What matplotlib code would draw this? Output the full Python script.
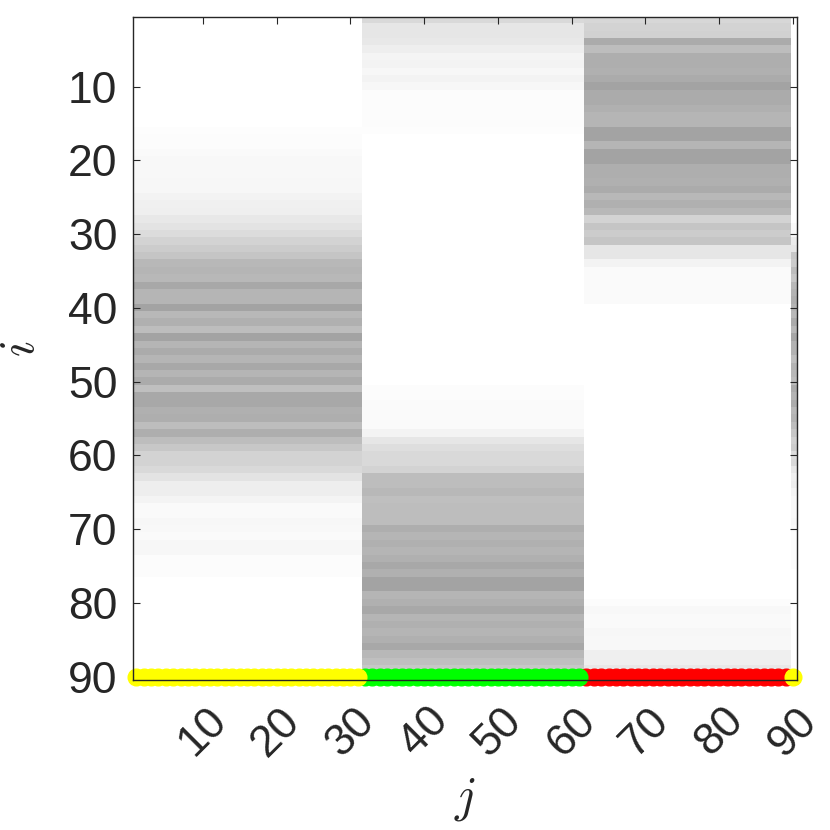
import numpy as np
import matplotlib
matplotlib.use("Agg")
import matplotlib.pyplot as plt

plt.rcParams['font.family'] = ['Liberation Sans', 'DejaVu Sans']
plt.rcParams['mathtext.fontset'] = 'cm'

# Perfiles de gris (fila i = 1..90) para cada grupo de columnas
perfil_a = ([0.0] * 15 +
            [0.01, 0.012, 0.015, 0.02, 0.03, 0.03, 0.03, 0.035, 0.035, 0.05,
             0.06, 0.065, 0.09, 0.11, 0.14, 0.17, 0.2, 0.23, 0.28, 0.29,
             0.28, 0.34, 0.29, 0.29, 0.36, 0.28, 0.31, 0.26, 0.36, 0.29,
             0.33, 0.29, 0.34, 0.29, 0.33, 0.25, 0.34, 0.34, 0.31, 0.32,
             0.26, 0.32, 0.26, 0.22, 0.17, 0.17, 0.15, 0.11, 0.07, 0.07,
             0.045, 0.02, 0.02, 0.035, 0.03, 0.02, 0.035, 0.035, 0.012, 0.012,
             0.012] +
            [0.003] * 14)

perfil_b = ([0.15, 0.1, 0.1, 0.09, 0.07, 0.045, 0.05, 0.035, 0.05, 0.035,
             0.015, 0.015, 0.015, 0.015, 0.015, 0.008] +
            [0.003] * 34 +
            [0.012, 0.012, 0.02, 0.02, 0.02, 0.02, 0.05, 0.1, 0.13, 0.15,
             0.15, 0.17, 0.26, 0.26, 0.28, 0.25, 0.26, 0.26, 0.26, 0.32,
             0.29, 0.31, 0.29, 0.31, 0.34, 0.31, 0.36, 0.36, 0.29, 0.31,
             0.34, 0.29, 0.31, 0.29, 0.31, 0.34, 0.28, 0.25, 0.22, 0.2])

perfil_c = ([0.16, 0.17, 0.18, 0.33, 0.26, 0.32, 0.32, 0.31, 0.33, 0.36,
             0.33, 0.33, 0.31, 0.29, 0.29, 0.36, 0.36, 0.29, 0.36, 0.36,
             0.32, 0.32, 0.31, 0.33, 0.28, 0.31, 0.28, 0.17, 0.23, 0.2,
             0.23, 0.1, 0.1, 0.05, 0.02, 0.02, 0.02, 0.02, 0.02] +
            [0.003] * 40 +
            [0.012, 0.03, 0.02, 0.02, 0.035, 0.03, 0.03, 0.065, 0.065, 0.09,
             0.1])

perfil_d = ([0.0] * 28 +
            [0.02, 0.03, 0.08, 0.1, 0.22, 0.2, 0.26, 0.22, 0.28, 0.3,
             0.32, 0.3, 0.28, 0.33, 0.28, 0.35, 0.3, 0.3, 0.25, 0.3,
             0.28, 0.26, 0.33, 0.3, 0.33, 0.28, 0.3, 0.26, 0.22, 0.18,
             0.2, 0.14, 0.15, 0.09, 0.06, 0.07, 0.04, 0.03, 0.03, 0.02,
             0.03, 0.02, 0.015, 0.015, 0.015, 0.015, 0.015] +
            [0.0] * 15)

# Grupo de cada columna j = 1..90
grupo_col = [0] * 31 + [1] * 30 + [2] * 28 + [3]
perfiles = [perfil_a, perfil_b, perfil_c, perfil_d]
colores_grupo = ['yellow', 'lime', 'red', 'yellow']

ticks = [10, 20, 30, 40, 50, 60, 70, 80, 90]

# Matriz
M = np.array([perfiles[g] for g in grupo_col]).T
n = M.shape[0]
cols = np.arange(1, n + 1)

fig = plt.figure(figsize=(8.3, 8.3), dpi=100)
ax = fig.add_axes([0.1598, 0.1802, 0.8001, 0.7998])
ax.imshow(M, cmap='gray_r', vmin=0, vmax=1, aspect='auto',
          interpolation='nearest', extent=(0.5, n + 0.5, n + 0.5, 0.5))

# Marcadores de grupo en la fila 90 (rojo, verde y después amarillo encima)
grupo_col = np.array(grupo_col)
for g in [2, 1, 0, 3]:
    sel = cols[grupo_col == g]
    ax.plot(sel, [n] * len(sel), 'o', color=colores_grupo[g],
            markeredgecolor=colores_grupo[g], ms=12, clip_on=False, zorder=2)

ax.set_xlim(0.5, n + 0.5)
ax.set_ylim(n + 0.5, 0.5)
ax.set_xticks(ticks)
ax.set_yticks(ticks)
ax.set_xticklabels([str(t) for t in ticks], rotation=45, ha='center', va='top')
ax.tick_params(direction='in', length=5, width=0.8, colors='#262626',
               labelsize=32, top=True, right=True)
ax.tick_params(axis='x', pad=14)
ax.tick_params(axis='y', pad=11)
for s in ax.spines.values():
    s.set_color('#262626')
    s.set_linewidth(1.0)

ax.set_xlabel('$j$', fontsize=35, color='#262626')
ax.set_ylabel('$i$', fontsize=35, color='#262626')
ax.xaxis.set_label_coords(0.5, -0.18)
ax.xaxis.label.set_va('center')
ax.yaxis.set_label_coords(-0.167, 0.5)
ax.yaxis.label.set_va('center')

fig.savefig('out.png', dpi=100)
